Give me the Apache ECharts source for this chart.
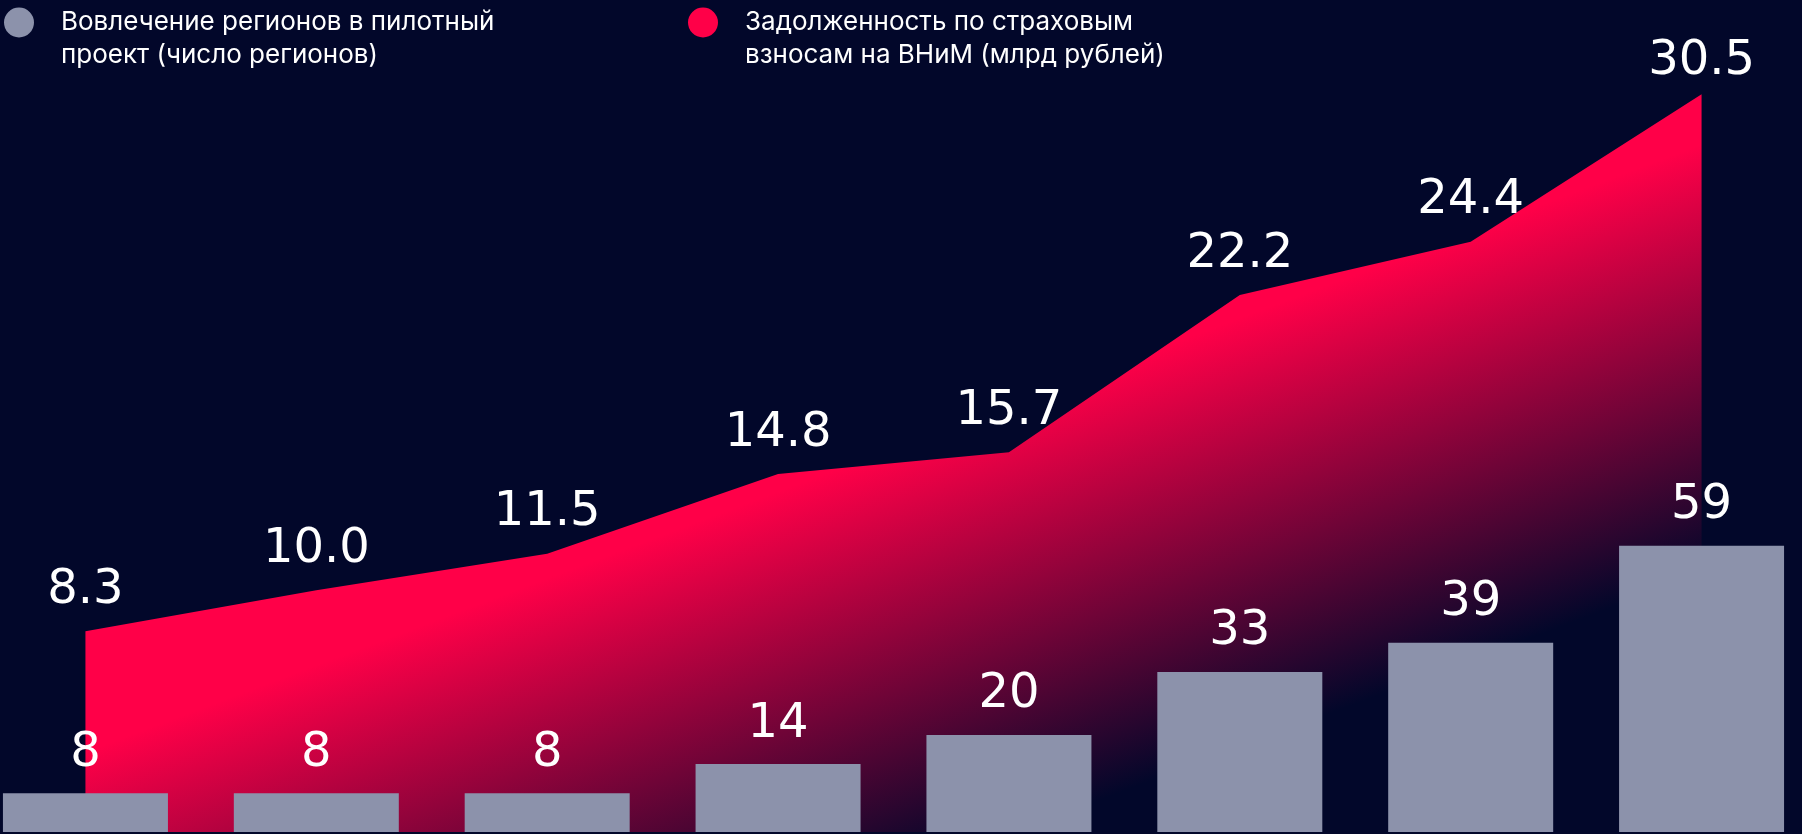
<!DOCTYPE html>
<html>
<head>
<meta charset="utf-8">
<script src="https://cdn.jsdelivr.net/npm/echarts@6/dist/echarts.min.js"></script>
<style>
    html, body { margin: 0; padding: 0; background: #02072a; }
    #chart { width: 1802px; height: 834px; }
</style>
</head>
<body>
<div id="chart"></div>
<script>
// данные с картинки
const periods = ['1', '2', '3', '4', '5', '6', '7', '8'];
const regions = [8, 8, 8, 14, 20, 33, 39, 59];
const debt = [8.3, 10.0, 11.5, 14.8, 15.7, 22.2, 24.4, 30.5];

const regionsName = 'Вовлечение регионов в пилотный\nпроект (число регионов)';
const debtName = 'Задолженность по страховым\nвзносам на ВНиМ (млрд рублей)';

const bg = '#02072a';
const red = '#ff0048';
const grey = '#8c92ab';

let myChart = echarts.init(document.getElementById('chart'));

const legendText = {
    color: '#ffffff',
    fontFamily: 'Inter',
    fontSize: 26,
    lineHeight: 33,
    padding: [0, 0, 0, 22]
};

// пустая первая строка, чтобы кружок стоял напротив первой строки подписи
const legendFormatter = name => '\n' + name;

// цифры одинаковой ширины, единица с подставкой — как на картинке
const valueFont = {
    color: '#ffffff',
    fontFamily: 'DejaVu Sans',
    fontSize: 48
};

myChart.setOption({
    backgroundColor: bg,
    animation: false,
    textStyle: { fontFamily: 'Inter' },
    legend: [{
        data: [regionsName],
        left: 4,
        top: -27,
        padding: 0,
        icon: 'circle',
        itemWidth: 30,
        itemHeight: 30,
        selectedMode: false,
        formatter: legendFormatter,
        textStyle: legendText
    }, {
        data: [debtName],
        left: 688,
        top: -27,
        padding: 0,
        icon: 'circle',
        itemWidth: 30,
        itemHeight: 30,
        selectedMode: false,
        formatter: legendFormatter,
        textStyle: legendText
    }],
    grid: {
        top: 0,
        bottom: 2,
        left: -30,
        right: -15,
        outerBoundsMode: 'none'
    },
    xAxis: {
        type: 'category',
        data: periods,
        boundaryGap: true,
        show: false
    },
    yAxis: [{
        type: 'value',
        min: 0,
        max: 171.5,
        show: false,
        splitLine: { show: false }
    }, {
        type: 'value',
        min: 0,
        max: 34.4,
        show: false,
        splitLine: { show: false }
    }],
    series: [{
        name: debtName,
        type: 'line',
        yAxisIndex: 1,
        z: 2,
        data: debt.map((v, i) => {
            // последняя подпись стоит ближе к точке
            if (i === debt.length - 1) {
                return { value: v, label: { distance: 9 } };
            }
            return v;
        }),
        showSymbol: true,
        symbol: 'circle',
        symbolSize: 0,
        itemStyle: { color: red },
        lineStyle: { width: 0, color: red },
        areaStyle: {
            opacity: 1,
            color: new echarts.graphic.LinearGradient(0, 0, 0.2735, 1.594, [
                { offset: 0, color: red },
                { offset: 0.49, color: red },
                { offset: 0.81, color: bg },
                { offset: 1, color: bg }
            ])
        },
        label: Object.assign({
            show: true,
            position: 'top',
            distance: 17,
            formatter: p => p.value.toFixed(1)
        }, valueFont)
    }, {
        name: regionsName,
        type: 'bar',
        yAxisIndex: 0,
        z: 3,
        data: regions,
        barWidth: 165,
        itemStyle: { color: grey },
        label: Object.assign({
            show: true,
            position: 'top',
            distance: 16
        }, valueFont)
    }]
});
</script>
</body>
</html>
